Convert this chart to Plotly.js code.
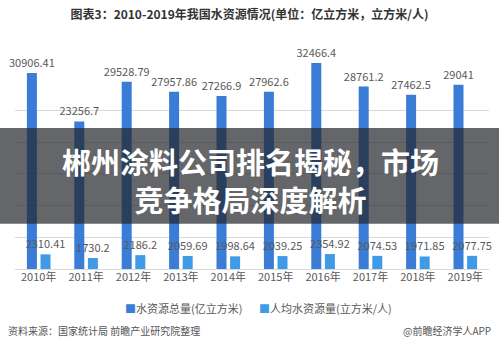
<!DOCTYPE html>
<html>
<head>
<meta charset="utf-8">
<script src="https://cdn.plot.ly/plotly-3.0.1.min.js"></script>
<style>
html,body{margin:0;padding:0;background:#fff;}
#chart{width:499px;height:355px;}
</style>
</head>
<body>
<div id="chart"></div>
<script>
const years = ['2010年','2011年','2012年','2013年','2014年','2015年','2016年','2017年','2018年','2019年'];
const totalWater = [30906.41, 23256.7, 29528.79, 27957.86, 27266.9, 27962.6, 32466.4, 28761.2, 27462.5, 29041];
const perCapita = [2310.41, 1730.2, 2186.2, 2059.69, 1998.64, 2039.25, 2354.92, 2074.53, 1971.85, 2077.75];
const seriesNames = ['水资源总量(亿立方米)', '人均水资源量(立方米/人)'];
const seriesColors = ['#3a7cd6', '#3f9be8'];
const gridVals = [0, 5000, 10000, 15000, 20000, 25000, 35000];

const FONT = '"Noto Sans CJK SC", "Microsoft YaHei", sans-serif';
const labelFont = {family: FONT, size: 11, color: '#595959'};

const traces = [totalWater, perCapita].map((vals, i) => ({
  type: 'bar', x: years, y: vals, name: seriesNames[i],
  marker: {color: seriesColors[i]},
  text: vals.map(String), textposition: 'outside', cliponaxis: false,
  constraintext: 'none', textfont: labelFont, hoverinfo: 'x+y'
}));

const plotTop = 47, plotBottom = 269.3, H = 355;
const ph = plotBottom - plotTop;
const py = (pix) => (plotBottom - pix) / ph;
const L = 15, W = 474;
const px = (pix) => (pix - L) / W;

const legendAnn = seriesNames.map((n, i) => ({
  text: '<span style="color:' + seriesColors[i] + '">■</span>' + n,
  xref: 'paper', yref: 'paper', x: px(i === 0 ? 123 : 257), y: py(308),
  xanchor: 'left', yanchor: 'middle', showarrow: false,
  font: {family: FONT, size: 11, color: '#595959'}
}));

const layout = {
  width: 499, height: 355,
  margin: {l: L, r: 499 - L - W, t: plotTop, b: H - plotBottom},
  paper_bgcolor: '#ffffff', plot_bgcolor: '#ffffff',
  font: {family: FONT, color: '#595959'},
  barmode: 'group', bargap: 0.426, bargroupgap: 0.265,
  uniformtext: {mode: false},
  title: {
    text: '<b>图表3：2010-2019年我国水资源情况(单位：亿立方米，立方米/人)</b>',
    font: {family: FONT, size: 12, color: '#333333'},
    x: 0.5, xanchor: 'center', y: 1 - 15 / H, yanchor: 'middle', yref: 'container'
  },
  xaxis: {
    type: 'category', showgrid: false, showline: false, ticks: '',
    tickfont: {family: FONT, size: 11, color: '#595959'}
  },
  yaxis: {
    range: [0, 35000], tickvals: gridVals, showticklabels: false,
    showgrid: true, gridcolor: '#d9d9d9', gridwidth: 1,
    zeroline: true, zerolinecolor: '#d9d9d9', zerolinewidth: 1, ticks: ''
  },
  showlegend: false,
  shapes: [
    {
      type: 'rect', xref: 'paper', yref: 'paper', layer: 'above',
      x0: px(0), x1: px(499), y0: py(224), y1: py(128),
      fillcolor: 'rgba(35,37,42,0.70)', line: {width: 0}
    }
  ],
  annotations: [
    {
      text: '<b>郴州涂料公司排名揭秘，市场<br>竞争格局深度解析</b>', xref: 'paper', yref: 'paper',
      x: px(250), y: py(180.5), xanchor: 'center', yanchor: 'middle', showarrow: false,
      align: 'center',
      font: {family: FONT, size: 29, color: '#ffffff'}
    },
    {
      text: '资料来源：国家统计局 前瞻产业研究院整理', xref: 'paper', yref: 'paper',
      x: px(6), y: py(331), xanchor: 'left', yanchor: 'middle', showarrow: false,
      font: {family: FONT, size: 10, color: '#555555'}
    },
    {
      text: '@前瞻经济学人APP', xref: 'paper', yref: 'paper',
      x: px(493), y: py(331), xanchor: 'right', yanchor: 'middle', showarrow: false,
      font: {family: FONT, size: 10, color: '#555555'}
    }
  ].concat(legendAnn)
};

Plotly.newPlot('chart', traces, layout, {displayModeBar: false, staticPlot: true});
</script>
</body>
</html>
